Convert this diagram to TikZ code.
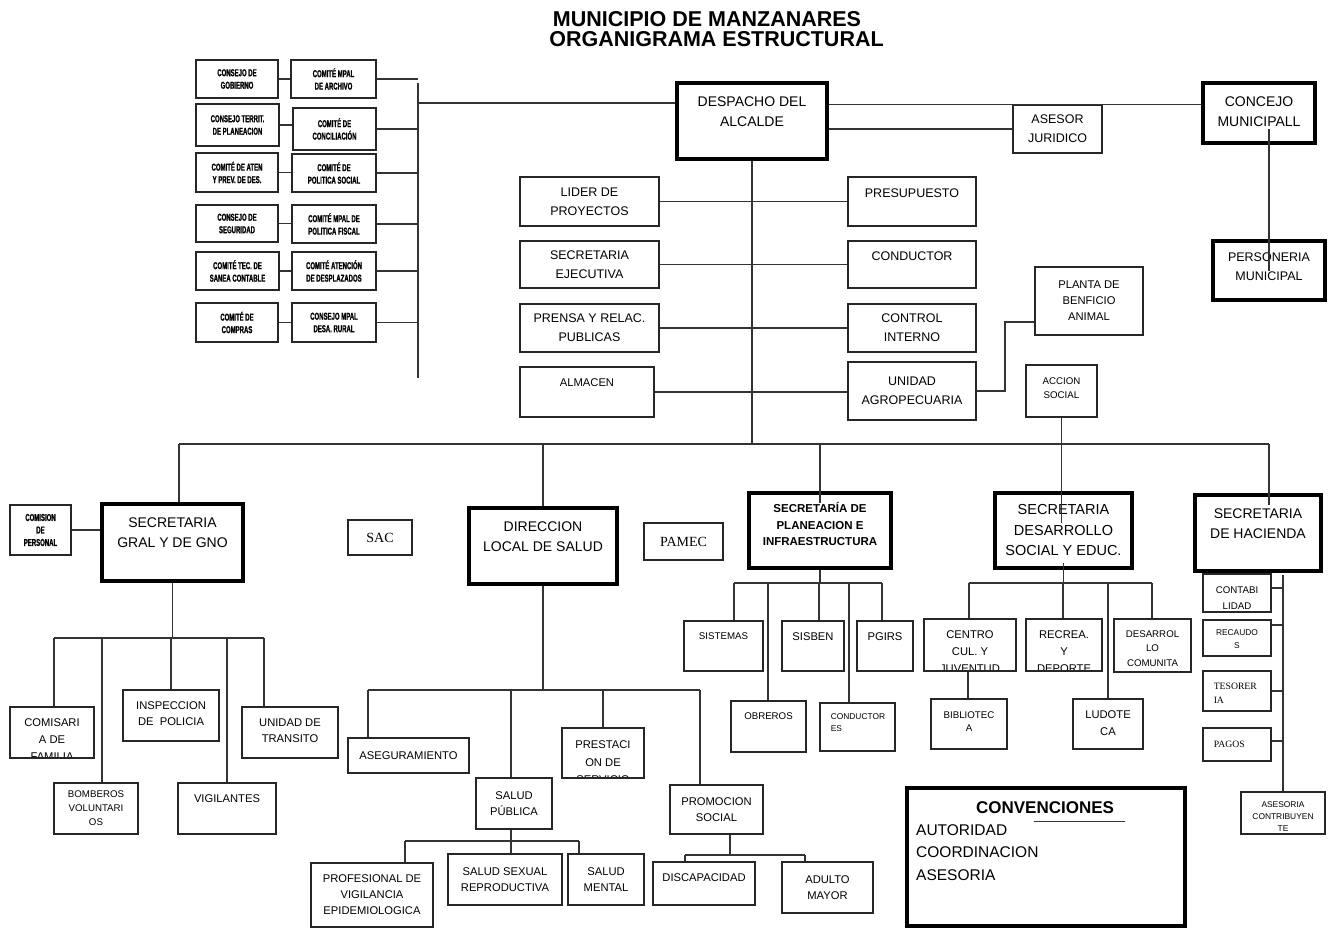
\documentclass[tikz,border=0pt]{standalone}
\usepackage{fontspec}
\setmainfont{Liberation Sans}
\newfontfamily\tnr{Liberation Serif}
\newfontfamily\estrecha[FakeStretch=0.6, FakeBold=1.2]{Liberation Sans}
\usepackage{tikz}

\newcommand{\fgrande}{\fontsize{14}{20}\selectfont}
\newcommand{\fmedia}{\fontsize{12.5}{19}\selectfont}
\newcommand{\fchica}{\fontsize{11.2}{16}\selectfont}
\newcommand{\fmenor}{\fontsize{9.7}{14}\selectfont}
\newcommand{\fmini}{\fontsize{8.4}{11.5}\selectfont}
\newcommand{\fcomite}{\estrecha\bfseries\fontsize{10}{12.5}\selectfont}

\tikzset{
    caja/.style={draw=black!85, line width=1.5pt, inner sep=0pt, align=center},
    fuerte/.style={draw=black, line width=3.2pt, inner sep=0pt, align=center},
    linea/.style={draw=black!80, line width=1.4pt},
    arriba/.style n args={3}{path picture={\node[draw=none, anchor=north, align=center, inner sep=0pt, minimum width=0pt, minimum height=0pt, font=#1] at ([yshift=-#2]path picture bounding box.north) {#3};}},
    izq/.style n args={3}{path picture={\node[draw=none, anchor=north west, align=left, inner sep=0pt, minimum width=0pt, minimum height=0pt, font=#1] at ([xshift=10pt, yshift=-#2]path picture bounding box.north west) {#3};}}}

\begin{document}
\begin{tikzpicture}[x=1pt, y=-1pt]
\useasboundingbox (0,0) rectangle (1330,928);

% titulo
\node[font=\bfseries\fontsize{21.5}{25}\selectfont] (tit1) at (707,19.5) {MUNICIPIO DE MANZANARES};
\node[font=\bfseries\fontsize{21.5}{25}\selectfont] (tit2) at (716.5,39.5) {ORGANIGRAMA ESTRUCTURAL};

% consejos y comites
\node[caja, minimum width=82, minimum height=38, font=\fcomite] (gobierno) at (237,79) {CONSEJO DE\\GOBIERNO};
\node[caja, minimum width=85, minimum height=38, font=\fcomite] (archivo) at (333.5,79) {COMITÉ MPAL\\DE ARCHIVO};
\node[caja, minimum width=83, minimum height=42, font=\fcomite] (planeacion) at (237.5,125) {CONSEJO TERRIT.\\DE PLANEACION};
\node[caja, minimum width=83, minimum height=42, font=\fcomite] (conciliacion) at (334.5,129) {COMITÉ DE\\CONCILIACIÓN};
\node[caja, minimum width=82, minimum height=39, font=\fcomite] (aten) at (237,172.5) {COMITÉ DE ATEN\\Y PREV. DE DES.};
\node[caja, minimum width=84, minimum height=38, font=\fcomite] (polsocial) at (334,173) {COMITÉ DE\\POLITICA SOCIAL};
\node[caja, minimum width=82, minimum height=37, font=\fcomite] (seguridad) at (237,223.5) {CONSEJO DE\\SEGURIDAD};
\node[caja, minimum width=84, minimum height=38, font=\fcomite] (polfiscal) at (334,224) {COMITÉ MPAL DE\\POLITICA FISCAL};
\node[caja, minimum width=83, minimum height=38, font=\fcomite] (sanea) at (237.5,271) {COMITÉ TEC. DE\\SANEA CONTABLE};
\node[caja, minimum width=84, minimum height=38, font=\fcomite] (desplazados) at (334,271) {COMITÉ ATENCIÓN\\DE DESPLAZADOS};
\node[caja, minimum width=82, minimum height=39, font=\fcomite] (compras) at (237,322.5) {COMITÉ DE\\COMPRAS};
\node[caja, minimum width=84, minimum height=39, font=\fcomite] (rural) at (334,322.5) {CONSEJO MPAL\\DESA. RURAL};

% despacho y asesores
\node[fuerte, minimum width=150, minimum height=76, arriba={\fgrande}{12pt}{DESPACHO DEL\\ALCALDE}] (despacho) at (752,121) {};
\node[caja, minimum width=89, minimum height=48, font=\fmedia] (asesor) at (1057.5,129) {ASESOR\\JURIDICO};
\node[fuerte, minimum width=112, minimum height=60, arriba={\fgrande}{12pt}{CONCEJO\\MUNICIPALL}] (concejo) at (1259,113) {};
\node[fuerte, minimum width=112, minimum height=59, arriba={\fmedia}{10pt}{PERSONERIA\\MUNICIPAL}] (personeria) at (1269,270.5) {};

\node[caja, minimum width=139, minimum height=49, font=\fmedia] (lider) at (589.5,201.5) {LIDER DE\\PROYECTOS};
\node[caja, minimum width=139, minimum height=47, font=\fmedia] (secejec) at (589.5,264.5) {SECRETARIA\\EJECUTIVA};
\node[caja, minimum width=139, minimum height=48, font=\fmedia] (prensa) at (589.5,328) {PRENSA Y RELAC.\\PUBLICAS};
\node[caja, minimum width=134, minimum height=50, arriba={\fchica}{11pt}{ALMACEN}] (almacen) at (587,392) {};
\node[caja, minimum width=128, minimum height=49, arriba={\fmedia}{11.5pt}{PRESUPUESTO}] (presupuesto) at (912,201.5) {};
\node[caja, minimum width=128, minimum height=47, arriba={\fmedia}{10.5pt}{CONDUCTOR}] (conductor) at (912,264.5) {};
\node[caja, minimum width=128, minimum height=48, font=\fmedia] (control) at (912,328) {CONTROL\\INTERNO};
\node[caja, minimum width=128, minimum height=58, font=\fmedia] (unidad) at (912,391) {UNIDAD\\AGROPECUARIA};
\node[caja, minimum width=108, minimum height=68, font=\fchica] (planta) at (1089,301) {PLANTA DE\\BENFICIO\\ANIMAL};
\node[caja, minimum width=71, minimum height=52, arriba={\fmenor}{11.5pt}{ACCION\\SOCIAL}] (accion) at (1061.5,391) {};

% secretarias
\node[fuerte, minimum width=141, minimum height=77, arriba={\fgrande}{12pt}{SECRETARIA\\GRAL Y DE GNO}] (sgral) at (172.5,542.5) {};
\node[caja, minimum width=61, minimum height=50, font=\fcomite] (comision) at (40.5,530) {COMISION\\DE\\PERSONAL};
\node[caja, minimum width=64, minimum height=35, font=\tnr\fontsize{14}{16}\selectfont] (sac) at (380,537.5) {SAC};
\node[fuerte, minimum width=148, minimum height=76, arriba={\fgrande}{12pt}{DIRECCION\\LOCAL DE SALUD}] (dls) at (543,546) {};
\node[caja, minimum width=79, minimum height=37, font=\tnr\fontsize{14}{16}\selectfont] (pamec) at (683.5,541.5) {PAMEC};
\node[fuerte, minimum width=142, minimum height=75, arriba={\bfseries\fontsize{11.5}{16.5}\selectfont}{8pt}{SECRETARÍA DE\\PLANEACION E\\INFRAESTRUCTURA}] (spi) at (820,530.5) {};
\node[fuerte, minimum width=137, minimum height=75, font=\fontsize{14.5}{20.5}\selectfont] (dessoc) at (1063.5,530.5) {SECRETARIA\\DESARROLLO\\SOCIAL Y EDUC.};
\node[fuerte, minimum width=126, minimum height=76, arriba={\fgrande}{12pt}{SECRETARIA\\DE HACIENDA}] (hacienda) at (1258,533) {};

% dependencias secretaria general
\node[caja, minimum width=84, minimum height=51, arriba={\fontsize{11.2}{17}\selectfont}{11pt}{COMISARI\\A DE\\FAMILIA}] (comisaria) at (52,732.5) {};
\node[caja, minimum width=96, minimum height=51, arriba={\fchica}{11pt}{INSPECCION\\DE\ \ POLICIA}] (inspeccion) at (171,715.5) {};
\node[caja, minimum width=96, minimum height=51, arriba={\fchica}{11pt}{UNIDAD DE\\TRANSITO}] (transito) at (290,732.5) {};
\node[caja, minimum width=84, minimum height=51, font=\fmenor] (bomberos) at (96,808.5) {BOMBEROS\\VOLUNTARI\\OS};
\node[caja, minimum width=98, minimum height=51, arriba={\fchica}{11pt}{VIGILANTES}] (vigilantes) at (227,808.5) {};

% dependencias salud
\node[caja, minimum width=121, minimum height=35, font=\fchica] (aseguramiento) at (408.5,755.5) {ASEGURAMIENTO};
\node[caja, minimum width=76, minimum height=51, font=\fchica] (salpublica) at (514,803.5) {SALUD\\PÚBLICA};
\node[caja, minimum width=82, minimum height=50, arriba={\fontsize{11.2}{17.5}\selectfont}{12pt}{PRESTACI\\ON DE\\SERVICIO}] (prestacion) at (603,753) {};
\node[caja, minimum width=93, minimum height=49, font=\fchica] (promocion) at (716.5,809.5) {PROMOCION\\SOCIAL};
\node[caja, minimum width=122, minimum height=64, font=\fchica] (profesional) at (372,895) {PROFESIONAL DE\\VIGILANCIA\\EPIDEMIOLOGICA};
\node[caja, minimum width=114, minimum height=51, font=\fchica] (sexual) at (505,879.5) {SALUD SEXUAL\\REPRODUCTIVA};
\node[caja, minimum width=76, minimum height=51, font=\fchica] (mental) at (606,879.5) {SALUD\\MENTAL};
\node[caja, minimum width=102, minimum height=43, arriba={\fchica}{11pt}{DISCAPACIDAD}] (discapacidad) at (704,883.5) {};
\node[caja, minimum width=91, minimum height=51, font=\fchica] (adulto) at (827.5,887.5) {ADULTO\\MAYOR};

% dependencias planeacion
\node[caja, minimum width=79, minimum height=50, arriba={\fmenor}{10.5pt}{SISTEMAS}] (sistemas) at (723.5,646) {};
\node[caja, minimum width=62, minimum height=50, arriba={\fchica}{11pt}{SISBEN}] (sisben) at (813,646) {};
\node[caja, minimum width=56, minimum height=50, arriba={\fchica}{11pt}{PGIRS}] (pgirs) at (885,646) {};
\node[caja, minimum width=75, minimum height=51, arriba={\fmenor}{10.5pt}{OBREROS}] (obreros) at (768.5,726.5) {};
\node[caja, minimum width=75, minimum height=48, izq={\fmini}{10pt}{CONDUCTOR\\ES}] (conductores) at (857.5,727) {};

% dependencias desarrollo social
\node[caja, minimum width=92, minimum height=52, arriba={\fontsize{11.2}{17}\selectfont}{11pt}{CENTRO\\CUL. Y\\JUVENTUD}] (centro) at (970,645) {};
\node[caja, minimum width=76, minimum height=52, arriba={\fontsize{11.2}{17}\selectfont}{11pt}{RECREA.\\Y\\DEPORTE}] (recrea) at (1064,645) {};
\node[caja, minimum width=77, minimum height=53, arriba={\fontsize{9.7}{14.5}\selectfont}{10.5pt}{DESARROL\\LO\\COMUNITA}] (desarrollo) at (1152.5,645.5) {};
\node[caja, minimum width=76, minimum height=50, arriba={\fontsize{9.7}{13}\selectfont}{11.5pt}{BIBLIOTEC\\A}] (biblioteca) at (969,724) {};
\node[caja, minimum width=70, minimum height=50, arriba={\fontsize{11.2}{17}\selectfont}{11pt}{LUDOTE\\CA}] (ludoteca) at (1108,724) {};

% dependencias hacienda
\node[caja, minimum width=68, minimum height=38, arriba={\fontsize{9.7}{16}\selectfont}{11.5pt}{CONTABI\\LIDAD}] (contabilidad) at (1237,593) {};
\node[caja, minimum width=68, minimum height=36, arriba={\fontsize{8.4}{13}\selectfont}{9pt}{RECAUDO\\S}] (recaudos) at (1237,638) {};
\node[caja, minimum width=68, minimum height=40, izq={\tnr\fontsize{9.7}{14}\selectfont}{11pt}{TESORER\\IA}] (tesoreria) at (1237,691) {};
\node[caja, minimum width=68, minimum height=33, izq={\tnr\fontsize{9.7}{14}\selectfont}{12pt}{PAGOS}] (pagos) at (1237,744.5) {};
\node[caja, minimum width=84, minimum height=42, arriba={\fontsize{8.4}{12}\selectfont}{9pt}{ASESORIA\\CONTRIBUYEN\\TE}] (asesoria) at (1283,813) {};

% convenciones
\node[fuerte, minimum width=278, minimum height=138] (conv) at (1046,857) {};
\node[font=\bfseries\fontsize{17}{20}\selectfont] (convtit) at (1045,808) {CONVENCIONES};
\node[anchor=west, font=\fontsize{15.5}{20}\selectfont, inner sep=0pt] (autoridad) at (916,830) {AUTORIDAD};
\node[anchor=west, font=\fontsize{15.5}{20}\selectfont, inner sep=0pt] (coordinacion) at (916,852.5) {COORDINACION};
\node[anchor=west, font=\fontsize{15.5}{20}\selectfont, inner sep=0pt] (asesoriaconv) at (916,875) {ASESORIA};
\draw[linea] ([xshift=-11pt, yshift=-4pt]convtit.south) -- ++(91,0);

% conectores consejos
\coordinate (barra1) at (418,83);
\coordinate (barra2) at (418,378);
\coordinate (enlace) at (418,103);
\draw[linea] (barra1) -- (barra2);
\draw[linea] (enlace) -- (enlace -| despacho.west);
\foreach \a/\b in {gobierno/archivo, planeacion/conciliacion, aten/polsocial, seguridad/polfiscal, sanea/desplazados, compras/rural}{
    \draw[linea] (\a.east) -- (\a.east -| \b.west);
    \draw[linea] (\b.east) -- (\b.east -| barra1);
}

% conectores despacho
\draw[linea] (despacho.east |- asesor.north) -- (concejo.west |- asesor.north);
\draw[linea] (despacho.east |- asesor.west) -- (asesor.west);
\draw[linea] (personeria.center) -- (personeria.center |- concejo.south) -- ++(0,-16);
\foreach \a/\b in {lider/presupuesto, secejec/conductor, prensa/control, almacen/unidad}
    \draw[linea] (\a.east) -- (\a.east -| \b.west);
\coordinate (codo) at (1005,391);
\draw[linea] (unidad.east) -- (codo) |- ([yshift=-21pt]planta.west);
\draw[linea] (accion.south) -- (accion.south |- 0,523);

% barra de secretarias
\coordinate (ramaI) at (179,444);
\coordinate (ramaD) at (1269,444);
\draw[linea] (ramaI) -- (ramaD);
\draw[linea] (despacho.south) -- (despacho.south |- ramaI);
\draw[linea] (ramaI) -- (ramaI |- sgral.north);
\draw[linea] (dls.north |- ramaI) -- (dls.north);
\draw[linea] (spi.north |- ramaI) -- (spi.north |- 0,503);
\draw[linea] (ramaD) -- (ramaD |- 0,505);
\draw[linea] (comision.east) -- (comision.east -| sgral.west);

% secretaria general
\draw[linea] (sgral.south) -- (sgral.south |- 0,638);
\draw[linea] (54,638) -- (264,638);
\foreach \x/\nodo in {54/comisaria, 102/bomberos, 171/inspeccion, 227/vigilantes, 264/transito}
    \draw[linea] (\x,638) -- (\x,0 |- \nodo.north);

% salud
\draw[linea] (dls.south) -- (dls.south |- 0,690);
\draw[linea] (368,690) -- (700,690);
\foreach \x/\nodo in {368/aseguramiento, 511/salpublica, 603/prestacion, 700/promocion}
    \draw[linea] (\x,690) -- (\x,0 |- \nodo.north);
\draw[linea] (511,0 |- salpublica.south) -- (511,841);
\draw[linea] (405,841) -- (579,841);
\foreach \x/\nodo in {405/profesional, 511/sexual, 579/mental}
    \draw[linea] (\x,841) -- (\x,0 |- \nodo.north);
\draw[linea] (730,0 |- promocion.south) -- (730,855);
\draw[linea] (685,855) -- (805,855);
\foreach \x/\nodo in {685/discapacidad, 805/adulto}
    \draw[linea] (\x,855) -- (\x,0 |- \nodo.north);

% planeacion
\draw[linea] (spi.south) -- (spi.south |- 0,583);
\draw[linea] (734,583) -- (882,583);
\foreach \x/\nodo in {734/sistemas, 768/obreros, 819/sisben, 849/conductores, 882/pgirs}
    \draw[linea] (\x,583) -- (\x,0 |- \nodo.north);

% desarrollo social
\draw[linea] (dessoc.south |- 0,563) -- (dessoc.south |- 0,583);
\draw[linea] (969,583) -- (1152,583);
\foreach \x/\nodo in {969/centro, 1063/recrea, 1108/ludoteca, 1152/desarrollo}
    \draw[linea] (\x,583) -- (\x,0 |- \nodo.north);
\draw[linea] (968,0 |- centro.south) -- (968,0 |- biblioteca.north);

% hacienda
\draw[linea] (1283,575) -- (asesoria.north);
\foreach \nodo/\y in {contabilidad/588, recaudos/625, tesoreria/691, pagos/741}
    \draw[linea] (\nodo.east |- 0,\y) -- (1283,\y);

\end{tikzpicture}
\end{document}
